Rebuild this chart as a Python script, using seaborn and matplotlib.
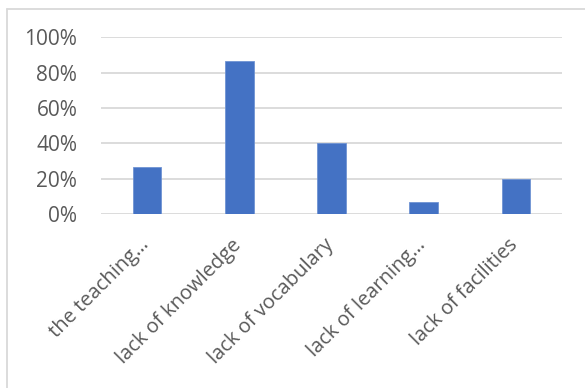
import numpy as np
import pandas as pd
import matplotlib
matplotlib.use("Agg")
import matplotlib.pyplot as plt
import matplotlib.transforms as mtrans
import seaborn as sn
from matplotlib.ticker import PercentFormatter

categories = ["the teaching…", "lack of knowledge", "lack of vocabulary",
              "lack of learning…", "lack of facilities"]
shares = [0.267, 0.867, 0.40, 0.067, 0.20]
yticks = [0, 0.2, 0.4, 0.6, 0.8, 1.0]

df = pd.DataFrame({"category": categories, "share": shares})

sn.set_style("white")
plt.rcParams["font.family"] = ["Open Sans", "DejaVu Sans"]

fig = plt.figure(figsize=(5.85, 3.88), dpi=100)
ax = fig.add_axes([0.1726, 0.4485, 0.788, 0.455])

sn.barplot(data=df, x="category", y="share", color="#4472C4", width=0.31,
           saturation=1, edgecolor="#6f93d3", linewidth=0.6, ax=ax, zorder=3)

ax.set_ylim(0, 1.0)
ax.set_xlim(-0.5, 4.5)
ax.set_yticks(yticks)
ax.yaxis.set_major_formatter(PercentFormatter(1.0, decimals=0))
ax.grid(axis="y", color="#D9D9D9", linewidth=1.3, zorder=0)
ax.set_axisbelow(True)
for s in ax.spines.values():
    s.set_visible(False)
ax.set_xlabel("")
ax.set_ylabel("")
ax.tick_params(axis="y", length=0, pad=17, labelsize=15, labelcolor="#595959")
ax.tick_params(axis="x", length=0, pad=8, labelsize=14.5, labelcolor="#595959")
shift = mtrans.ScaledTranslation(-8 / 100, -10 / 100, fig.dpi_scale_trans)
for lab in ax.get_xticklabels():
    lab.set_rotation(45)
    lab.set_ha("right")
    lab.set_rotation_mode("anchor")
    lab.set_transform(lab.get_transform() + shift)

# outer chart border (top and left edges visible in the crop)
fig.add_artist(plt.Line2D([7 / 585, 7 / 585], [0, 1 - 9 / 388], color="#D9D9D9", lw=1.3))
fig.add_artist(plt.Line2D([7 / 585, 1], [1 - 9 / 388, 1 - 9 / 388], color="#D9D9D9", lw=1.3))

fig.savefig("out.png", dpi=100)
